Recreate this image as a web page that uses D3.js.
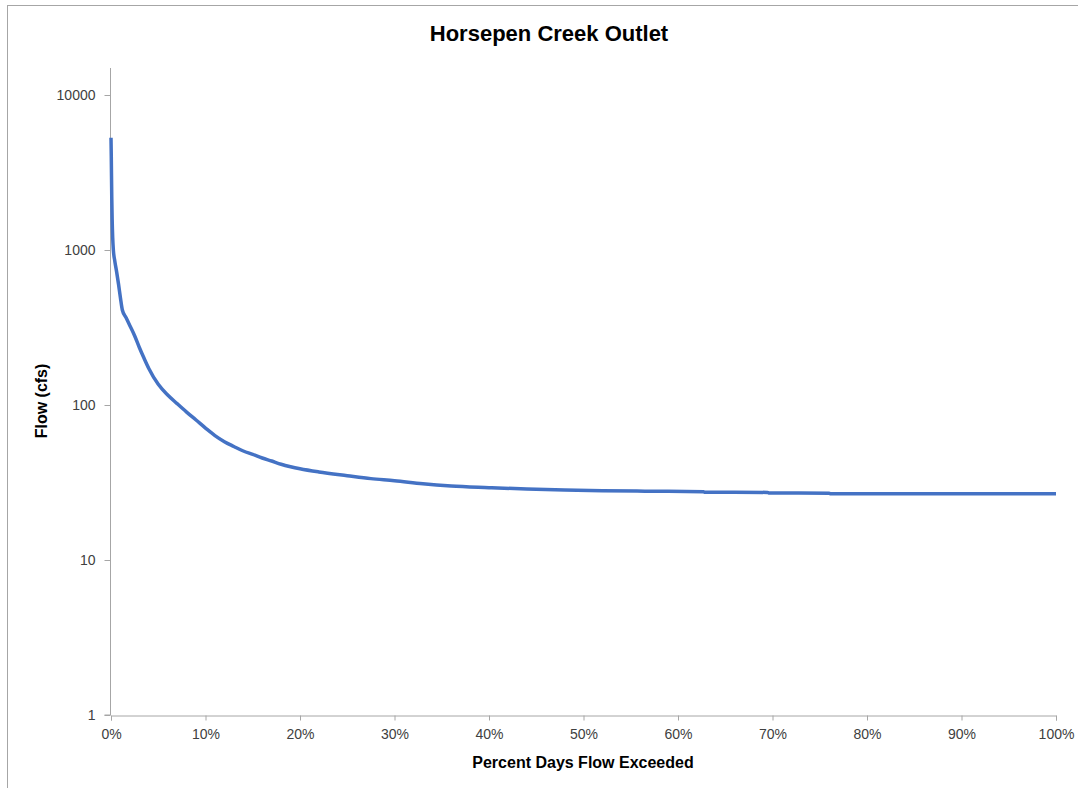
<!DOCTYPE html>
<html>
<head>
<meta charset="utf-8">
<script src="https://cdn.jsdelivr.net/npm/d3@7"></script>
<style>
  body { margin: 0; background: #fff; }
  svg { display: block; }
  text { font-family: "Liberation Sans", Arial, sans-serif; }
</style>
</head>
<body>
<svg id="chart"></svg>
<script>
// flow duration curve
const pct = [0, 0.03, 0.08, 0.12, 0.18, 0.25, 0.4, 0.6, 0.8, 1.0, 1.2, 1.6, 2.0, 2.5, 3.0, 3.5, 4.0, 5.0, 6.0, 7.0, 8.0, 9.0,
  10, 11, 12, 13, 14, 15, 16, 17, 18, 19, 20, 22, 25, 27.5, 30, 33, 36, 40, 44, 48, 52, 56.5, 62.7, 62.8, 69.5, 69.6, 76, 76.1, 100]
const flow = [5300, 4000, 2200, 1600, 1200, 1000, 850, 720, 600, 490, 410, 365, 325, 280, 235, 200, 172, 136, 116, 102, 90, 80,
  71, 63.5, 58, 54, 50.5, 48, 45.5, 43.5, 41.5, 40, 38.8, 37, 35, 33.5, 32.5, 31, 30, 29.3, 28.7, 28.3, 28.0, 27.8, 27.6, 27.4, 27.3, 27.1, 27.0, 26.8, 26.8]

const yTicks = [1, 10, 100, 1000, 10000]
const xTicks = [0, 10, 20, 30, 40, 50, 60, 70, 80, 90, 100]

const width = 1078
const height = 788
const margin = ({top: 68, right: 22, bottom: 73, left: 111})

const x = d3.scaleLinear()
  .domain([0, 100])
  .range([margin.left, width - margin.right])
const y = d3.scaleLog()
  .domain([1, 10000])
  .range([height - margin.bottom, 95])

const svg = d3.select('svg#chart')
  .attr('width', width)
  .attr('height', height)

// outer chart border (only top/left show in the frame)
svg.append('rect')
  .attr('x', 7.5).attr('y', 5.5)
  .attr('width', width + 10).attr('height', height + 10)
  .attr('fill', 'none')
  .attr('stroke', '#a6a6a6')
  .attr('stroke-width', 1)

svg.append('text')
  .attr('x', 549)
  .attr('y', 41)
  .attr('text-anchor', 'middle')
  .attr('font-size', 22)
  .attr('font-weight', 'bold')
  .attr('fill', '#000')
  .text('Horsepen Creek Outlet')

// x axis
const gx = svg.append('g')
  .attr('transform', `translate(0, ${y(1) + 0.5})`)
  .call(d3.axisBottom(x).tickValues(xTicks).tickSize(5).tickPadding(9).tickFormat(d => d + '%'))
gx.select('.domain').attr('stroke', '#a6a6a6')
gx.selectAll('.tick line').attr('stroke', '#a6a6a6')
gx.selectAll('.tick text').attr('font-size', 14).attr('fill', '#404040')
  .attr('font-family', '"Liberation Sans", Arial, sans-serif')

// y axis
const gy = svg.append('g')
  .attr('transform', `translate(${margin.left - 0.5}, 0)`)
  .call(d3.axisLeft(y).tickValues(yTicks).tickSize(6).tickPadding(9).tickFormat(d3.format('d')))
gy.select('.domain').attr('d', `M-6,${y(1)}H0V${margin.top}`).attr('stroke', '#a6a6a6')
gy.selectAll('.tick line').attr('stroke', '#a6a6a6')
gy.selectAll('.tick text').attr('font-size', 14).attr('fill', '#404040')
  .attr('font-family', '"Liberation Sans", Arial, sans-serif')

svg.append('text')
  .attr('transform', `translate(47, 401) rotate(-90)`)
  .attr('text-anchor', 'middle')
  .attr('font-size', 16)
  .attr('font-weight', 'bold')
  .attr('fill', '#000')
  .text('Flow (cfs)')

svg.append('text')
  .attr('x', 583)
  .attr('y', 768)
  .attr('text-anchor', 'middle')
  .attr('font-size', 16)
  .attr('font-weight', 'bold')
  .attr('fill', '#000')
  .text('Percent Days Flow Exceeded')

const data = pct.map((p, i) => ({p: p, v: flow[i]}))

const line = d3.line()
  .x(d => x(d.p))
  .y(d => y(d.v))
  .curve(d3.curveMonotoneX)

svg.append('path')
  .datum(data)
  .attr('fill', 'none')
  .attr('stroke', '#4472c4')
  .attr('stroke-width', 3.5)
  .attr('stroke-linejoin', 'round')
  .attr('d', line)
</script>
</body>
</html>
